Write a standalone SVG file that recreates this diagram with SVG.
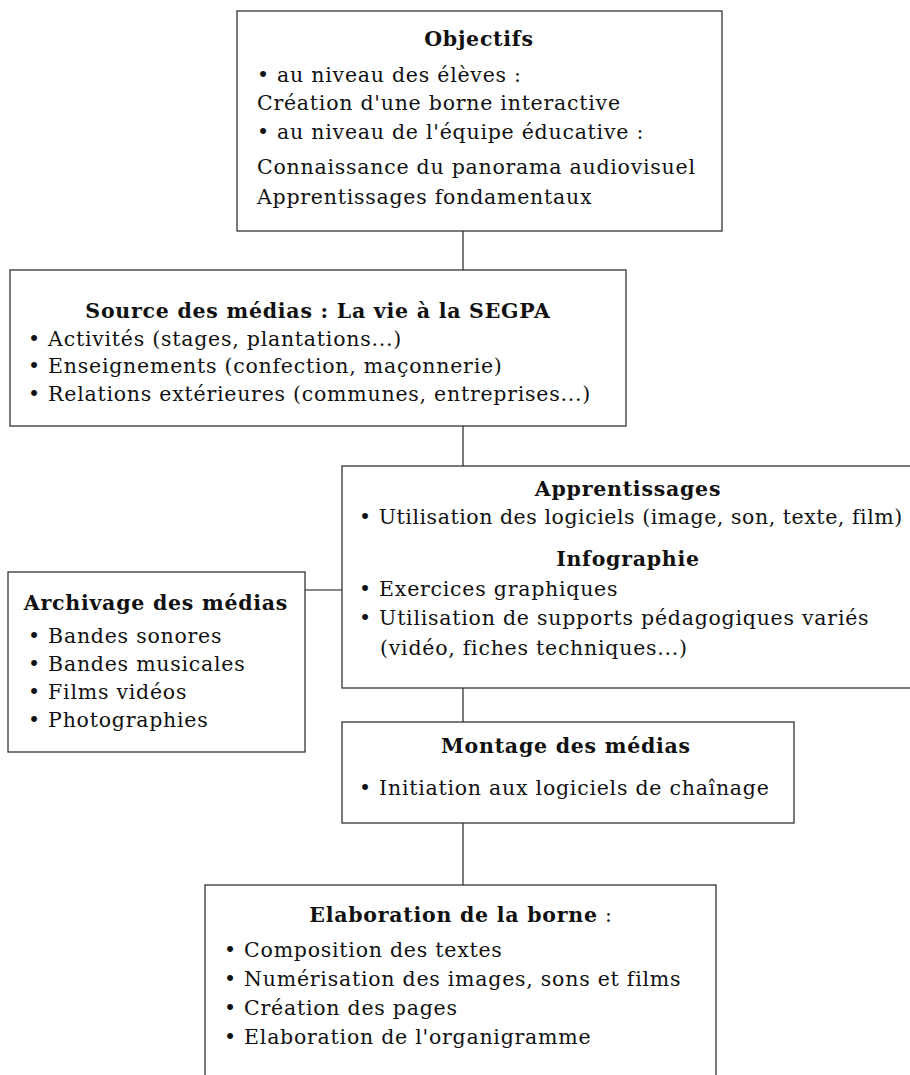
<svg xmlns="http://www.w3.org/2000/svg" width="910" height="1075" viewBox="0 0 910 1075">
<style>
.box{fill:#fff;stroke:#333;stroke-width:1.3}
.con{stroke:#111;stroke-width:1.1;fill:none}
text{font-family:"DejaVu Serif","Liberation Serif",serif;font-size:20.5px;letter-spacing:0.75px;fill:#111}
.t{font-weight:bold;text-anchor:middle}
</style>
<rect width="910" height="1075" fill="#fff"/>
<g id="connectors">
<line class="con" x1="463" y1="231" x2="463" y2="270"/>
<line class="con" x1="463" y1="426" x2="463" y2="466"/>
<line class="con" x1="305" y1="590" x2="342" y2="590"/>
<line class="con" x1="463" y1="688" x2="463" y2="722"/>
<line class="con" x1="463" y1="823" x2="463" y2="885"/>
</g>
<g id="objectifs">
<rect class="box" x="237" y="11" width="485" height="220"/>
<text class="t" x="479" y="46">Objectifs</text>
<text x="257" y="82">• au niveau des élèves :</text>
<text x="257" y="110">Création d'une borne interactive</text>
<text x="257" y="139">• au niveau de l'équipe éducative :</text>
<text x="257" y="174">Connaissance du panorama audiovisuel</text>
<text x="257" y="204">Apprentissages fondamentaux</text>
</g>
<g id="source">
<rect class="box" x="10" y="270" width="616" height="156"/>
<text class="t" x="318" y="318">Source des médias : La vie à la SEGPA</text>
<text x="28" y="346">• Activités (stages, plantations...)</text>
<text x="28" y="373">• Enseignements (confection, maçonnerie)</text>
<text x="28" y="401">• Relations extérieures (communes, entreprises...)</text>
</g>
<g id="apprentissages">
<rect class="box" x="342" y="466" width="580" height="222"/>
<text class="t" x="628" y="496">Apprentissages</text>
<text x="359" y="524" textLength="544" lengthAdjust="spacing">• Utilisation des logiciels (image, son, texte, film)</text>
<text class="t" x="628" y="566">Infographie</text>
<text x="359" y="596">• Exercices graphiques</text>
<text x="359" y="625">• Utilisation de supports pédagogiques variés</text>
<text x="380" y="655">(vidéo, fiches techniques...)</text>
</g>
<g id="archivage">
<rect class="box" x="8" y="572" width="297" height="180"/>
<text class="t" x="156" y="610">Archivage des médias</text>
<text x="28" y="643">• Bandes sonores</text>
<text x="28" y="671">• Bandes musicales</text>
<text x="28" y="699">• Films vidéos</text>
<text x="28" y="727">• Photographies</text>
</g>
<g id="montage">
<rect class="box" x="342" y="722" width="452" height="101"/>
<text class="t" x="566" y="753">Montage des médias</text>
<text x="359" y="795">• Initiation aux logiciels de chaînage</text>
</g>
<g id="elaboration">
<rect class="box" x="205" y="885" width="511" height="210"/>
<text class="t" x="461" y="922"><tspan>Elaboration de la borne</tspan><tspan font-weight="normal"> :</tspan></text>
<text x="224" y="957">• Composition des textes</text>
<text x="224" y="986">• Numérisation des images, sons et films</text>
<text x="224" y="1015">• Création des pages</text>
<text x="224" y="1044">• Elaboration de l'organigramme</text>
</g>
</svg>
